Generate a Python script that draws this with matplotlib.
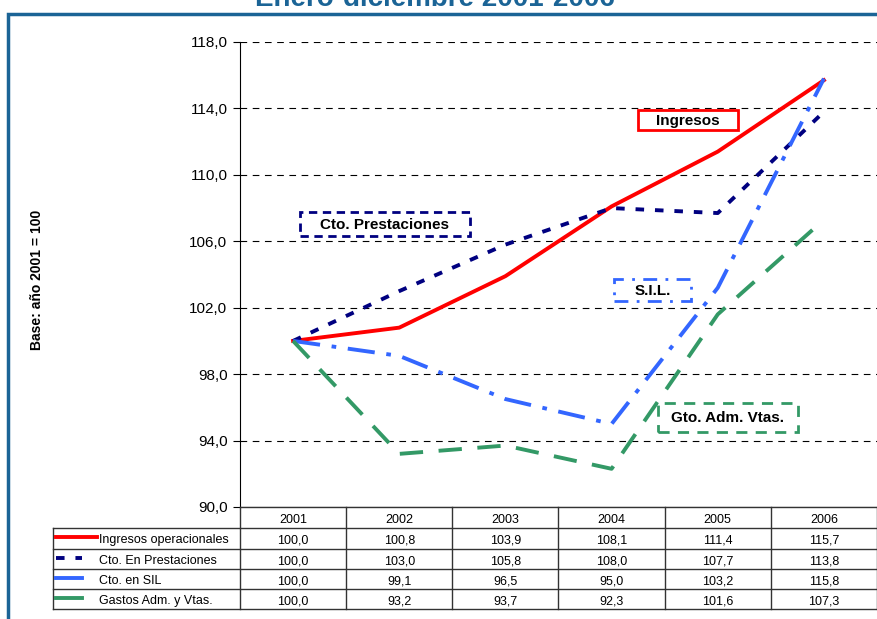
import matplotlib
matplotlib.use('Agg')
import matplotlib.pyplot as plt
from matplotlib.patches import Rectangle
from matplotlib.lines import Line2D

plt.rcParams['font.family'] = ['Liberation Sans', 'DejaVu Sans']

years = ['2001', '2002', '2003', '2004', '2005', '2006']
ingresos = [100.0, 100.8, 103.9, 108.1, 111.4, 115.7]
prestaciones = [100.0, 103.0, 105.8, 108.0, 107.7, 113.8]
sil = [100.0, 99.1, 96.5, 95.0, 103.2, 115.8]
gastos = [100.0, 93.2, 93.7, 92.3, 101.6, 107.3]
series_names = ['Ingresos operacionales', 'Cto. En Prestaciones', 'Cto. en SIL', 'Gastos Adm. y Vtas.']
yticks = [90, 94, 98, 102, 106, 110, 114, 118]

W, H = 878, 619
fig = plt.figure(figsize=(W / 100, H / 100), dpi=100)


def fx(px):
    return px / W


def fy(py):
    return 1 - py / H


# frame and title (title partly cut off at the top, as in the source)
fig.patches.append(Rectangle((fx(8), fy(660)), fx(900), fy(14) - fy(660), transform=fig.transFigure,
                             fill=False, edgecolor='#1B6496', lw=2.5))
fig.text(fx(435), fy(6), 'Enero-diciembre 2001-2006', ha='center', va='baseline',
         fontsize=20, fontweight='bold', color='#1B6496')

ax_l, ax_r, ax_t, ax_b = 240, 877, 42, 507
ax = fig.add_axes([fx(ax_l), fy(ax_b), fx(ax_r - ax_l), fy(ax_t) - fy(ax_b)])
ax.set_xlim(-0.5, 5.5)
ax.set_ylim(90, 118)
ax.set_yticks(yticks)
ax.set_yticklabels([f'{v:.1f}'.replace('.', ',') for v in yticks], fontsize=11)
ax.set_xticks([])
for s in ['top', 'right', 'bottom']:
    ax.spines[s].set_visible(False)
ax.spines['left'].set_linewidth(0.8)
ax.tick_params(axis='y', length=5, width=0.8, pad=4)
for v in yticks[1:]:
    ax.axhline(v, color='black', lw=0.8, ls=(0, (6, 5)), zorder=1)
ax.axhline(90, color='black', lw=0.8, zorder=1)
ax.set_facecolor('none')

x = range(len(years))
styles = [
    dict(color='#FF0000', ls='-'),
    dict(color='#000080', ls=(0, (2.2, 2.8))),
    dict(color='#3366FF', ls=(0, (7, 3, 1.2, 3))),
    dict(color='#339966', ls=(0, (6, 4))),
]
all_series = [ingresos, prestaciones, sil, gastos]
for vals, st in zip(all_series, styles):
    ax.plot(x, vals, lw=2.8, zorder=3, **st)

fig.text(fx(37), fy(280), 'Base: año 2001 = 100', rotation=90, ha='center', va='center',
         fontsize=10, fontweight='bold')


# annotation boxes
def label_box(x0, y0, x1, y1, text, color, ls):
    fig.patches.append(Rectangle((fx(x0), fy(y1)), fx(x1 - x0), fy(y0) - fy(y1), transform=fig.transFigure,
                                 fill=True, facecolor='white', edgecolor=color, lw=2, ls=ls, zorder=5))
    fig.text(fx((x0 + x1) / 2), fy((y0 + y1) / 2 + 1), text, ha='center', va='center',
             fontsize=11, fontweight='bold', zorder=6)


label_box(638, 110, 738, 130, 'Ingresos', '#FF0000', '-')
label_box(300, 212, 470, 236, 'Cto. Prestaciones', '#000080', (0, (3, 2)))
label_box(614, 279, 691, 301, 'S.I.L.', '#3366FF', (0, (5, 3, 1, 3)))
label_box(658, 403, 798, 432, 'Gto. Adm. Vtas.', '#339966', (0, (4, 3)))

# data table
col_w = (ax_r - ax_l) / len(years)
row_lines = [507, 528, 549, 569, 589, 609]
tab_l = 53
lc = '#333333'
fig.add_artist(Line2D([fx(ax_l), fx(ax_r)], [fy(507), fy(507)], color=lc, lw=1))
for yy in row_lines[1:]:
    fig.add_artist(Line2D([fx(tab_l), fx(ax_r)], [fy(yy), fy(yy)], color=lc, lw=1))
for i in range(len(years) + 1):
    xx = ax_l + i * col_w
    fig.add_artist(Line2D([fx(xx), fx(xx)], [fy(507), fy(609)], color=lc, lw=1))
fig.add_artist(Line2D([fx(tab_l), fx(tab_l)], [fy(528), fy(609)], color=lc, lw=1))

for i, yr in enumerate(years):
    fig.text(fx(ax_l + (i + 0.5) * col_w), fy(518.5), yr, ha='center', va='center_baseline', fontsize=9)

for r, (name, vals, st) in enumerate(zip(series_names, all_series, styles)):
    yc = (row_lines[r + 1] + row_lines[r + 2]) / 2 + 0.5
    x_end = 97 if r == 0 else 82
    fig.add_artist(Line2D([fx(56), fx(x_end)], [fy(yc - 2), fy(yc - 2)], color=st['color'], lw=2.8,
                          ls=st['ls'] if r == 1 else '-'))
    fig.text(fx(99), fy(yc), name, ha='left', va='center_baseline', fontsize=9)
    for i, v in enumerate(vals):
        fig.text(fx(ax_l + (i + 0.5) * col_w), fy(yc), f'{v:.1f}'.replace('.', ','),
                 ha='center', va='center_baseline', fontsize=9)

fig.savefig('out.png', dpi=100)
